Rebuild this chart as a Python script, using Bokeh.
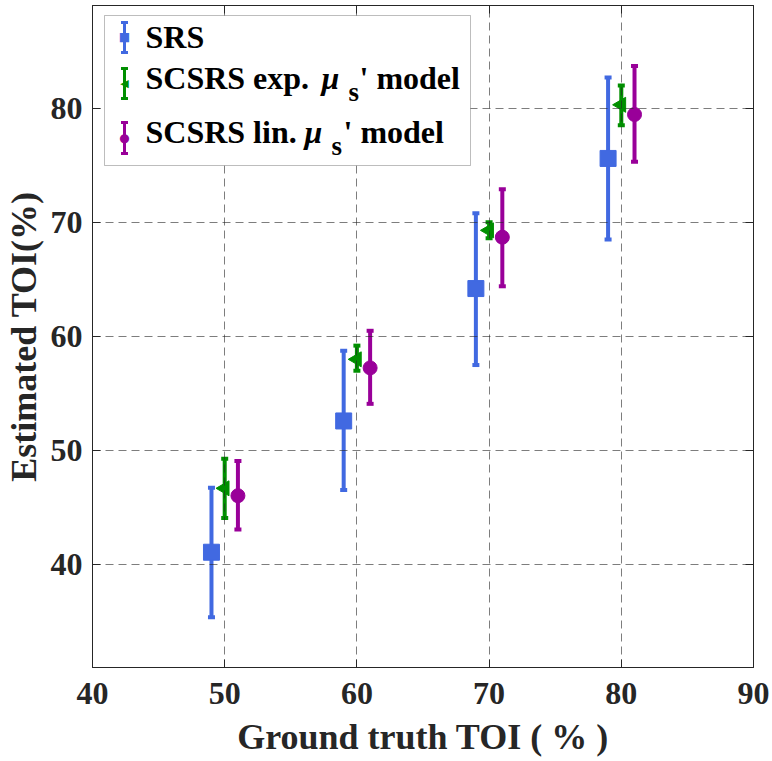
import numpy as np
from bokeh.plotting import figure
from bokeh.models import (ColumnDataSource, Whisker, TeeHead, LinearAxis, Range1d,
                          FixedTicker, BoxAnnotation, Label)
from bokeh.embed import file_html
from bokeh.resources import INLINE

# ---------------- data ----------------
truth = [50, 60, 70, 80]
srs_mean = [41.1, 52.6, 64.2, 75.6]
srs_low = [35.4, 46.55, 57.5, 68.5]
srs_high = [46.75, 58.75, 70.8, 82.7]
exp_mean = [46.7, 58.0, 69.3, 80.3]
exp_low = [44.1, 57.0, 68.6, 78.5]
exp_high = [49.3, 59.2, 70.0, 82.0]
lin_mean = [46.05, 57.25, 68.7, 79.45]
lin_low = [43.1, 54.1, 64.4, 75.3]
lin_high = [49.1, 60.5, 72.9, 83.7]
x_ticks = [40, 50, 60, 70, 80, 90]
y_ticks = [40, 50, 60, 70, 80]
x_title = "Ground truth TOI ( % )"
y_title = "Estimated TOI(%)"

# ---------------- layout ----------------
W, H = 772, 761
FL, FR, FT, FB = 90, 753, 5, 667
FONT = "Liberation Serif"
AX = "#262626"

p = figure(width=W, height=H, output_backend="svg", toolbar_location=None,
           x_range=Range1d(40, 90), y_range=Range1d(31, 89),
           min_border_left=FL, min_border_right=W - FR,
           min_border_top=FT, min_border_bottom=H - FB)
p.background_fill_color = "white"
p.border_fill_color = "white"
p.outline_line_color = AX
p.outline_line_width = 1

for ax, ticks in ((p.xaxis[0], x_ticks), (p.yaxis[0], y_ticks)):
    ax.ticker = FixedTicker(ticks=ticks)
    ax.major_tick_in = 8
    ax.major_tick_out = 0
    ax.minor_tick_line_color = None
    ax.axis_line_color = AX
    ax.major_tick_line_color = AX
    ax.major_label_text_font = FONT
    ax.major_label_text_font_style = "bold"
    ax.major_label_text_font_size = "32px"
    ax.major_label_text_color = AX
    ax.axis_label_text_font = FONT
    ax.axis_label_text_font_style = "bold"
    ax.axis_label_text_font_size = "36px"
    ax.axis_label_text_color = AX

p.xaxis[0].axis_label = x_title
p.yaxis[0].axis_label = y_title
p.xaxis[0].major_label_standoff = 15
p.xaxis[0].axis_label_standoff = 10
p.yaxis[0].major_label_standoff = 10
p.yaxis[0].axis_label_standoff = 4

# mirrored tick marks on top / right (no labels drawn)
for loc, ticks in (("above", x_ticks), ("right", y_ticks)):
    mirror = LinearAxis(ticker=FixedTicker(ticks=ticks), major_label_text_font_size="1px",
                        major_label_text_color=None, major_tick_in=8, major_tick_out=0,
                        minor_tick_line_color=None, major_label_standoff=0,
                        axis_line_color=AX, major_tick_line_color=AX)
    p.add_layout(mirror, loc)

p.xgrid.ticker = FixedTicker(ticks=x_ticks)
p.ygrid.ticker = FixedTicker(ticks=y_ticks)
for g in (p.xgrid[0], p.ygrid[0]):
    g.grid_line_color = AX
    g.grid_line_alpha = 0.6
    g.grid_line_dash = "8 5"
    g.grid_line_width = 1
    g.level = "guide"

# ---------------- series ----------------
series = [
    (srs_mean, srs_low, srs_high, -1, "#4169e1", "square", 16, 0.0),
    (exp_mean, exp_low, exp_high, 0, "#008f00", "triangle", 15, np.pi / 2),
    (lin_mean, lin_low, lin_high, 1, "#990099", "circle", 14, 0.0),
]
for mean, low, high, off, col, mk, sz, ang in series:
    src = ColumnDataSource(dict(x=[t + off for t in truth], y=mean, low=low, high=high))
    w = Whisker(source=src, base="x", lower="low", upper="high", dimension="height",
                line_color=col, line_width=4, level="underlay",
                upper_head=TeeHead(size=7, line_color=col, line_width=4),
                lower_head=TeeHead(size=7, line_color=col, line_width=4))
    p.add_layout(w)
    p.scatter("x", "y", source=src, marker=mk, size=sz, angle=ang,
              fill_color=col, line_color=col, line_width=1)

# ---------------- legend (screen units relative to frame bottom-left) ----------------
def sx(x):
    return x - FL

def sy(y):
    return FB - y

box = BoxAnnotation(left=sx(102), right=sx(468), top=sy(15), bottom=sy(165),
                    left_units="screen", right_units="screen",
                    top_units="screen", bottom_units="screen",
                    fill_color="white", fill_alpha=1.0, line_color="#262626",
                    line_width=1, level="annotation")
p.add_layout(box)

icon_x = 122
rows = [
    (22, 52, 36, "#4169e1", "■", 12),
    (68, 98, 83, "#008f00", "◀", 11),
    (122, 153, 137, "#990099", "●", 12),
]
for y0, y1, ym, col, sym, fs in rows:
    isrc = ColumnDataSource(dict(b=[sx(icon_x)], lo=[sy(y1)], hi=[sy(y0)]))
    p.add_layout(Whisker(source=isrc, base="b", lower="lo", upper="hi", dimension="height",
                         base_units="screen", lower_units="screen", upper_units="screen",
                         line_color=col, line_width=3, level="annotation",
                         upper_head=TeeHead(size=7, line_color=col, line_width=3),
                         lower_head=TeeHead(size=7, line_color=col, line_width=3)))
    p.add_layout(Label(x=sx(icon_x), y=sy(ym), x_units="screen", y_units="screen",
                       text=sym, text_color=col, text_font="DejaVu Sans",
                       text_font_size=f"{fs}px", text_align="center",
                       text_baseline="middle"))

BASE_FIX = 11  # empirical shift so that the text baseline sits where intended

def lab(x, y, t, size="32px", style="bold"):
    p.add_layout(Label(x=sx(x), y=sy(y - BASE_FIX), x_units="screen", y_units="screen",
                       text=t, text_font=FONT, text_font_style=style, text_font_size=size,
                       text_color="black", text_baseline="alphabetic",
                       text_align="left"))

lab(143, 47, "SRS")
lab(143, 88, "SCSRS exp.")
lab(319, 88, "μ", style="bold italic")
lab(346, 102, "s", size="27px")
lab(357, 88, "' model")
lab(143, 142, "SCSRS lin.")
lab(302, 142, "μ", style="bold italic")
lab(329, 156, "s", size="27px")
lab(341, 142, "' model")

open("out.html", "w").write(file_html(p, INLINE))
